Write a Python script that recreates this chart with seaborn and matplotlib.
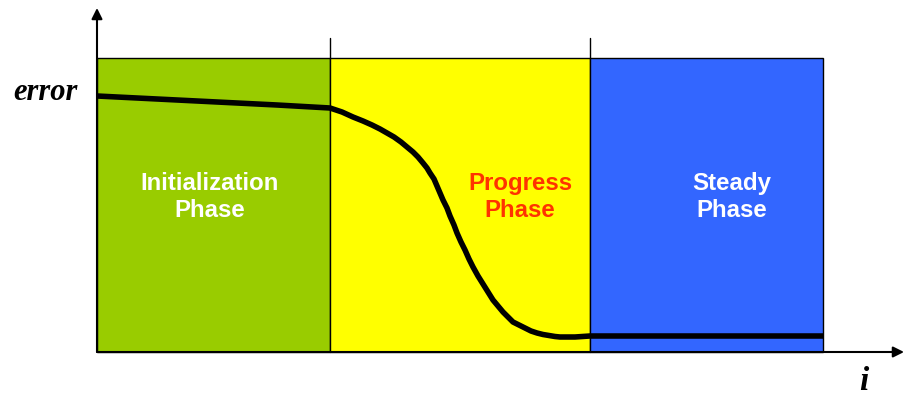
import numpy as np
import pandas as pd
import matplotlib
matplotlib.use('Agg')
import matplotlib.pyplot as plt
import seaborn as sns

# Fases do treinamento (limites no eixo i)
fases = ['Initialization\nPhase', 'Progress\nPhase', 'Steady\nPhase']
inicio_fase = [0, 233, 493]
fim_fase = [233, 493, 726]
cores_fase = ['#99CC00', '#FFFF00', '#3366FF']
cores_texto = ['white', '#FF3300', 'white']
texto_x = [113, 423, 635]
texto_y = 155
topo = 294

# Curva do erro
curva_i = [0, 60, 120, 180, 233, 245, 256, 266, 275, 283, 290, 297, 304, 310, 316,
           321, 326, 330, 333, 337, 340, 343, 346, 350, 353, 357, 360, 364, 368, 372,
           376, 381, 386, 391, 396, 401, 406, 411, 416, 422, 428, 434, 440, 446, 452,
           458, 463, 470, 478, 493, 600, 726]
curva_erro = [256, 253, 250, 247, 244, 240, 235, 231, 227, 223, 219, 215, 210, 205, 200,
              195, 189, 184, 179, 173, 166, 159, 152, 144, 136, 127, 119, 110, 102, 93,
              85, 76, 68, 60, 52, 46, 40, 35, 30, 27, 24, 21, 19, 17.5, 16.5,
              15.5, 15, 15, 15, 16, 16, 16]

dados = pd.DataFrame({'i': curva_i, 'erro': curva_erro})

sns.set_style('white')
fig = plt.figure(figsize=(9.04, 3.96), dpi=100)
ax = fig.add_axes([0, 0, 1, 1])

# retangulos das fases
largura = [f - i for i, f in zip(inicio_fase, fim_fase)]
ax.bar(inicio_fase, topo, width=largura, align='edge', color=cores_fase,
       edgecolor='black', linewidth=1, zorder=1)

# pequenas marcas acima das divisoes
for x in inicio_fase[1:]:
    ax.plot([x, x], [topo, topo + 20], color='black', lw=1, zorder=2)

# curva do erro
sns.lineplot(data=dados, x='i', y='erro', sort=False, color='black', linewidth=4,
             ax=ax, zorder=3, solid_joinstyle='round', solid_capstyle='butt')

# rotulos das fases
for nome, x, c in zip(fases, texto_x, cores_texto):
    ax.text(x, texto_y, nome, color=c, ha='center', va='center', fontsize=17.3,
            fontweight='bold', family='Liberation Sans', linespacing=1.22, zorder=4)

# eixos com setas
ax.annotate('', xy=(0, 344), xytext=(0, 0),
            arrowprops=dict(arrowstyle='-|>', color='black', lw=1.5, mutation_scale=16,
                            shrinkA=0, shrinkB=0), annotation_clip=False, zorder=5)
ax.annotate('', xy=(807, 0), xytext=(0, 0),
            arrowprops=dict(arrowstyle='-|>', color='black', lw=1.5, mutation_scale=16,
                            shrinkA=0, shrinkB=0), annotation_clip=False, zorder=5)

ax.text(-19, 259, 'error', ha='right', va='center', fontsize=22, fontweight='bold',
        fontstyle='italic', family='Liberation Serif', color='black')
ax.text(767, -29, 'i', ha='center', va='center', fontsize=24, fontweight='bold',
        fontstyle='italic', family='Liberation Serif', color='black')

ax.set_xlim(-97, 807)
ax.set_ylim(-44, 352)
ax.set_axis_off()
if ax.get_legend() is not None:
    ax.get_legend().remove()

fig.savefig('out.png', dpi=100)
